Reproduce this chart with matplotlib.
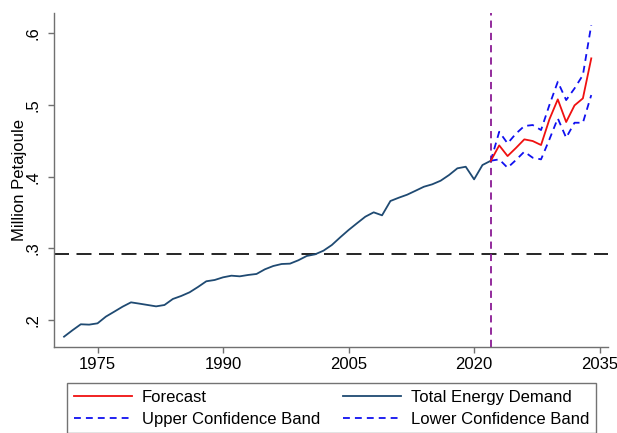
import matplotlib
matplotlib.use("Agg")
import matplotlib.pyplot as plt
from matplotlib.ticker import FixedLocator, FixedFormatter

plt.rcParams['font.family'] = ['Liberation Sans', 'DejaVu Sans']

# Historical total energy demand (million petajoule)
hist_years = list(range(1971, 2023))
hist_demand = [
    0.1767, 0.1856, 0.1940, 0.1935, 0.1953, 0.2047, 0.2116, 0.2186, 0.2246, 0.2228,
    0.2209, 0.2190, 0.2209, 0.2293, 0.2335, 0.2386, 0.2460, 0.2540, 0.2558, 0.2595,
    0.2618, 0.2609, 0.2628, 0.2642, 0.2707, 0.2753, 0.2781, 0.2786, 0.2833, 0.2893,
    0.2916, 0.2967, 0.3046, 0.3153, 0.3255, 0.3349, 0.3441, 0.3502, 0.3460, 0.3660,
    0.3706, 0.3748, 0.3803, 0.3859, 0.3893, 0.3943, 0.4022, 0.4116, 0.4138, 0.3962,
    0.4162, 0.4222,
]

# Forecast with confidence bands
fc_years = list(range(2022, 2035))
forecast = [0.4222, 0.4436, 0.4287, 0.4400, 0.4520, 0.4497, 0.4441, 0.4800,
            0.5078, 0.4762, 0.4994, 0.5092, 0.5650]
upper_band = [0.4222, 0.4626, 0.4464, 0.4600, 0.4706, 0.4720, 0.4650, 0.5000,
              0.5324, 0.5068, 0.5231, 0.5417, 0.6114]
lower_band = [0.4222, 0.4241, 0.4124, 0.4232, 0.4348, 0.4264, 0.4241, 0.4520,
              0.4813, 0.4543, 0.4752, 0.4752, 0.5138]

reference_level = 0.2917
forecast_start = 2022

x_ticks = [1975, 1990, 2005, 2020, 2035]
y_ticks = [0.2, 0.3, 0.4, 0.5, 0.6]
y_tick_labels = ['.2', '.3', '.4', '.5', '.6']

fig = plt.figure(figsize=(6.17, 4.33), dpi=100)
ax = fig.add_axes([54 / 617, 1 - 347 / 433, (608 - 54) / 617, (347 - 13) / 433])

navy = '#1f4a72'
spine_gray = '#707070'

ax.axhline(reference_level, color='black', lw=1.2, ls=(0, (9, 4.5)), zorder=1)
ax.axvline(forecast_start, color='#8a1a94', lw=1.3, ls=(0, (4, 2.8)), zorder=1)

l_total, = ax.plot(hist_years, hist_demand, color=navy, lw=1.3, zorder=3,
                   label='Total Energy Demand')
l_up, = ax.plot(fc_years, upper_band, color='#1010f0', lw=1.3, ls=(0, (3.8, 2.8)),
                zorder=3, label='Upper Confidence Band')
l_lo, = ax.plot(fc_years, lower_band, color='#1010f0', lw=1.3, ls=(0, (3.8, 2.8)),
                zorder=3, label='Lower Confidence Band')
l_fc, = ax.plot(fc_years, forecast, color='#f01010', lw=1.3, zorder=4,
                label='Forecast')

ax.set_xlim(1969.8, 2036.0)
ax.set_ylim(0.1623, 0.6283)

ax.xaxis.set_major_locator(FixedLocator(x_ticks))
ax.yaxis.set_major_locator(FixedLocator(y_ticks))
ax.yaxis.set_major_formatter(FixedFormatter(y_tick_labels))

for side in ('top', 'right'):
    ax.spines[side].set_visible(False)
for side in ('left', 'bottom'):
    ax.spines[side].set_color(spine_gray)
    ax.spines[side].set_linewidth(1.0)

ax.tick_params(axis='both', colors=spine_gray, labelcolor='black', length=4.5,
               width=1.0, labelsize=12)
ax.tick_params(axis='x', pad=3)
ax.tick_params(axis='y', pad=5)
for lbl in ax.get_yticklabels():
    lbl.set_rotation(90)
    lbl.set_va('center')

ax.set_ylabel('Million Petajoule', fontsize=12, labelpad=-1)

handles = [l_fc, l_up, l_total, l_lo]
leg = fig.legend(handles, [h.get_label() for h in handles], ncol=2,
                 loc='upper left', bbox_to_anchor=(67 / 617, 1 - 383 / 433),
                 frameon=True, fancybox=False, shadow=False, fontsize=12,
                 handlelength=3.5, handletextpad=0.6, columnspacing=1.35,
                 labelspacing=0.42, borderpad=0.4, borderaxespad=0)
leg.get_frame().set_edgecolor('#505050')
leg.get_frame().set_linewidth(1.0)

fig.savefig('out.png', dpi=100)
